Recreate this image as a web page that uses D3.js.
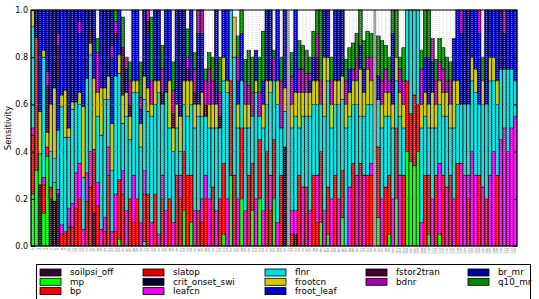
<!DOCTYPE html>
<html>
<head>
<meta charset="utf-8">
<script src="https://cdn.jsdelivr.net/npm/d3@7"></script>
<style>
  body { margin: 0; background: #fff; }
  text { font-family: "DejaVu Sans", sans-serif; }
</style>
</head>
<body>
<div id="chart"></div>
<script>
// parameter names, in stacking order (bottom to top)
var seriesNames = ["soilpsi_off", "mp", "bp", "slatop", "crit_onset_swi", "leafcn",
  "flnr", "frootcn", "froot_leaf", "fstor2tran", "bdnr", "br_mr", "q10_mr"];
var seriesColors = ["#2e0a2e", "#00ff00", "#ff0000", "#e00000", "#000033", "#ee00ee",
  "#00dddd", "#cccc00", "#0000cc", "#440033", "#aa00aa", "#000099", "#008800"];

// sensitivity of each case (135 slots, two empty separator slots)
var soilpsi_off = [0,0,.26,0,0,.2,.19,.22,0,0,0,0,0,0,0, 0,0,.14,0,0,0,0,0,0,0,0,0,0,0,0, 0,0,0,0,0,0,0,0,0,0,0,0,0,0,0, 0,0,0,0,0,0,0,0,0,0,0,0,0,0,0, 0,0,0,0,0,0,0,0,0,0,0,0,0,.05,0, 0,0,0,0,0,0,0,0,0,0,0,0,0,0,0, 0,0,0,0,0,0,0,0,0,0,0,0,0,0,0, 0,0,0,0,0,0,0,0,0,0,0,0,0,0,0, 0,0,0,0,0,0,0,0,0,0,0,0,0,0,0];
var mp = [.22,.32,.13,.14,.38,0,.08,0,0,0,0,0,0,0,0, 0,0,0,0,0,0,0,0,0,.03,0,0,0,0,0, 0,.02,0,0,0,0,0,0,0,0,0,0,.15,0,.1, 0,0,0,0,0,0,0,0,.05,0,.3,0,0,.2,0, 0,.15,0,.2,0,0,0,.2,0,0,0,0,0,0,0, 0,0,0,0,0,.1,0,.05,0,0,0,.12,0,0,0, 0,0,0,0,0,0,.12,0,0,.05,0,.2,0,0,.4, .36,.34,.4,0,0,.05,0,0,.05,0,0,0,0,0,0, 0,0,0,0,0,0,0,0,0,0,0,0,0,0,0];
var bp = [.25,.565,0,.12,.04,.05,0,0,.05,.06,.08,.08,.16,.2,0, .19,.25,.27,.17,0,.06,.3,0,.06,.25,.22,0,.2,.1,.2, 0,.2,.22,0,.22,0,.2,0,.2,0,.3,.2,.25,.3,.2, 0,.15,.1,.2,0,.25,0,.2,.3,0,.4,.3,0,.3,0, .3,.2,0,.25,0,.4,.15,.25,0,.3,0,0,.05,0,.3, 0,.25,0,.3,.1,.3,0,.2,0,.3,0,.2,0,0,.35, 0,.35,0,.3,.3,0,.3,0,.25,.25,0,.3,0,.3,.3, .2,.3,.2,0,.3,.25,0,.3,0,.3,0,.3,0,.35,0, 0,.2,0,0,.3,0,.2,0,0,.3,0,0,0,0,0];
var slatop = [0,0,0,0,0,0,0,0,0,0,0,0,0,0,0, 0,0,0,0,0,0,0,0,0,0,0,0,0,0,0, 0,0,0,0,0,0,0,0,0,0,0,0,0,0,0, 0,0,0,0,0,0,0,0,0,0,0,0,0,0,0, 0,0,0,0,0,0,0,0,0,0,0,0,0,0,0, 0,0,0,0,0,0,0,0,0,0,0,0,0,0,0, 0,0,0,0,0,0,0,0,0,0,0,0,0,0,0, 0,0,0,0,0,0,0,0,0,0,0,0,0,0,0, 0,0,0,0,0,0,0,0,0,0,0,0,0,0,0];
var crit_onset_swi = [0,0,0,0,0,0,0,0,0,0,0,0,0,0,0, 0,0,0,0,0,0,0,0,0,0,0,0,0,0,0, 0,0,0,0,0,0,0,0,0,0,0,0,0,0,0, 0,0,0,0,0,0,0,0,0,0,0,0,0,0,0, 0,0,0,0,0,0,0,0,0,0,.42,0,0,0,0, 0,0,0,0,0,0,0,0,0,0,0,0,0,0,0, 0,0,0,0,0,0,0,0,0,0,0,0,0,0,0, 0,0,0,0,0,0,0,0,0,0,0,0,0,0,0, 0,0,0,0,0,0,0,0,0,0,0,0,0,0,0];
var leafcn = [.03,0,0,.03,0,0,0,.02,.04,0,.08,.1,.15,.15,.07, .12,.15,0,.1,.07,.06,.12,.06,.16,0,.1,.15,0,.2,0, .1,.1,0,.1,0,.05,.1,.15,0,.1,0,.1,0,0,0, .15,0,.1,.1,.2,0,.15,0,0,.2,0,0,.2,0,.15, 0,0,.2,0,.15,0,.15,0,.1,0,0,0,.1,.1,0, .25,0,.15,0,.2,0,.15,0,.2,0,.2,0,0,.25,0, .3,0,.3,0,.05,0,0,.2,0,0,.2,0,.3,0,0, 0,0,0,.1,0,0,.2,0,.3,0,.25,0,.2,0,.35, .3,.1,.4,.3,0,.25,0,.3,.4,0,.45,.5,.4,.5,.55];
var flnr = [.43,0,0,.51,0,.15,.1,.25,.5,.4,.3,.4,.3,.25,.22, .4,.41,0,.28,.4,.5,.2,.26,.5,.45,.2,.4,.25,.35,.45, .32,.3,.35,.45,.38,.6,.3,.5,.3,.3,.2,.1,.2,.25,.3, .35,.4,.35,.25,.3,.25,.35,.3,.35,.45,.3,.5,.3,.2,.35, .2,.2,.45,.1,.35,.2,.35,.25,.5,.2,.15,0,.35,.4,.2, .3,.3,.4,.3,.3,.2,.4,.45,.3,.3,.4,.3,.5,.3,.25, .3,.2,.25,.3,.25,0,.2,.3,.3,.25,.3,.2,.25,.2,.3, .44,.36,.4,.4,.25,.2,.3,.2,.25,.25,.3,.2,.3,.25,.25, .3,.3,.3,.35,.3,.35,.4,.4,.3,.3,.3,.25,.35,.25,.15];
var frootcn = [.07,0,.18,.03,.06,.2,.3,0,.05,.2,.04,.03,0,.05,.3, 0,.05,.3,.1,.2,.05,.1,.2,0,.08,.12,.1,.1,.05,.05, .1,.1,.1,.05,.1,.05,0,0,.2,.1,.1,.15,.1,.15,.1, .1,.05,.1,0,.1,.1,.1,0,.1,.05,0,.17,.1,0,.1, .1,0,.05,0,.1,.1,.05,0,.1,0,.1,0,.1,.1,.15, .1,.1,.1,.1,.1,0,.25,.1,.1,.1,.1,.1,.1,.1,.1, .1,.2,.1,.15,.1,0,0,.1,.1,.1,.1,.1,.1,.1,0, 0,0,0,.1,.1,.1,.15,.1,.1,.1,.1,.1,.2,.1,0, 0,0,.1,.1,0,.1,0,.1,.1,.1,0,0,0,0,0];
var froot_leaf = [0,0,.43,.17,0,.4,0,.21,.36,.34,.5,.39,.39,.25,.41, .29,0,.29,0,.33,.33,.28,.28,.15,.19,0,.1,0,.3,.3, .06,.28,.23,0,.3,.3,0,.35,.3,0,.4,.45,0,0,.3, 0,.3,.25,0,0,0,.4,0,.2,.3,0,0,.1,.2,0, 0,0,.13,0,.1,.3,.3,0,.3,0,.33,0,0,.35,0, 0,0,.05,.1,0,0,.2,.2,0,.3,.3,.28,0,.1,0, 0,.1,.1,0,0,0,.1,0,0,0,.3,0,0,0,0, 0,0,0,0,.15,.2,.13,0,0,0,0,0,.18,.3,.3, .4,.4,.2,.25,.3,0,.4,.2,.2,.3,.25,.15,.25,.25,.3];
var fstor2tran = [0,0,0,0,.2,0,0,.15,0,0,0,0,0,0,0, 0,.05,0,0,0,0,0,0,.03,0,.2,0,.05,0,0, 0,0,.05,0,0,0,.05,0,0,.06,0,0,0,.05,0, .05,0,0,.05,0,0,0,.05,0,0,0,0,0,0,0, 0,0,0,0,0,0,0,0,0,0,0,0,0,0,0, 0,0,0,0,.1,0,0,0,0,0,0,0,0,0,0, 0,0,0,0,0,0,0,0,0,0,0,0,0,0,0, 0,0,0,0,0,0,0,0,0,0,0,0,0,0,0, 0,0,0,0,0,0,0,0,0,0,0,0,0,0,0];
var bdnr = [0,0,0,0,.06,0,0,.05,0,0,0,0,0,.05,0, 0,0,0,.17,0,0,0,.05,.05,0,0,.05,.1,0,0, .05,0,.05,.1,0,0,.1,0,0,.1,0,0,0,.05,0, .1,.1,.1,.1,.15,.1,0,.1,0,0,0,0,.1,0,.1, .08,.1,0,.1,0,0,0,.1,0,.2,0,0,.12,0,.1, .1,.08,.03,0,.1,.1,0,0,.1,0,0,0,.1,0,.05, .1,0,0,.05,.1,0,0,.1,.1,.05,0,0,.1,.1,0, 0,0,0,.15,0,0,.1,.1,.08,.1,.05,.1,0,0,.1, 0,0,0,0,.1,0,0,0,0,0,0,.1,0,0,0];
var br_mr = [0,.115,0,0,.26,0,.33,.1,0,0,0,0,0,.05,0, 0,.09,0,0,0,0,0,.15,0,0,0,0,0,0,0, 0,0,0,0,0,0,0,0,0,0,0,0,.3,0,0, 0,0,0,0,0,0,0,0,0,0,0,0,0,0,0, 0,0,0,0,0,0,0,0,0,0,0,0,0,0,0, 0,0,0,0,0,0,0,0,0,0,0,0,0,0,0, 0,0,0,0,0,0,0,0,0,0,0,0,0,0,0, 0,0,0,0,0,0,0,0,0,0,0,0,0,0,0, 0,0,0,0,0,0,0,0,0,0,0,0,0,0,0];
var q10_mr = [0,0,0,0,0,0,0,0,0,0,0,0,0,0,0, 0,0,0,.06,0,0,0,0,.05,0,.13,0,.08,0,0, .15,0,0,.27,0,0,.1,0,0,.12,0,0,0,.12,0, .07,0,0,.05,.07,.1,0,.15,0,0,0,0,.09,.1,.09, .15,.15,0,.15,.21,0,0,.03,0,.1,0,0,.1,0,.12, .1,.1,.07,.11,.1,.3,0,0,.1,0,0,0,.09,.09,.11, .1,.15,.12,.11,.1,0,.17,.17,.1,.1,.1,.2,.05,.14,0, 0,0,0,.08,.2,.2,0,.09,.1,.09,.1,.08,0,0,0, 0,0,0,0,0,.1,0,0,0,0,0,0,0,0,0];

var separators = [71, 95];
var yTicks = [0, 0.2, 0.4, 0.6, 0.8, 1.0];
// legend columns, as matplotlib fills them (3,3,3,2,2)
var legendColumns = [[0, 1, 2], [3, 4, 5], [6, 7, 8], [9, 10], [11, 12]];

var seriesValues = [soilpsi_off, mp, bp, slatop, crit_onset_swi, leafcn,
  flnr, frootcn, froot_leaf, fstor2tran, bdnr, br_mr, q10_mr];
var caseIds = d3.range(soilpsi_off.length);

var svgWidth = 539;
var svgHeight = 299;
var margin = {top: 10, right: 22, bottom: 53, left: 31};
var width = svgWidth - margin.left - margin.right;
var height = svgHeight - margin.top - margin.bottom;

var svg = d3.select("#chart")
  .append("svg")
  .attr("width", svgWidth)
  .attr("height", svgHeight);

svg.append("rect")
  .attr("width", svgWidth)
  .attr("height", svgHeight)
  .attr("fill", "#fff");

var chartGroup = svg.append("g")
  .attr("transform", `translate(${margin.left}, ${margin.top})`);

var xScale = d3.scaleBand()
  .domain(caseIds)
  .range([0, width])
  .padding(0);

var yScale = d3.scaleLinear()
  .domain([0, 1])
  .range([height, 0]);

// build stack rows from the named series
var rows = caseIds.map(function(i) {
  var row = {id: i};
  seriesNames.forEach(function(name, k) { row[name] = seriesValues[k][i]; });
  return row;
});
var stacked = d3.stack().keys(seriesNames)(rows);

// separator bands
chartGroup.selectAll(".sep")
  .data(separators)
  .enter()
  .append("rect")
  .attr("x", d => xScale(d) + 0.4)
  .attr("y", 0)
  .attr("width", xScale.bandwidth() - 0.8)
  .attr("height", height)
  .attr("fill", "#999");

var layers = chartGroup.selectAll(".layer")
  .data(stacked)
  .enter()
  .append("g")
  .attr("fill", (d, k) => seriesColors[k]);

layers.selectAll("rect")
  .data(d => d.filter(s => s[1] - s[0] > 0))
  .enter()
  .append("rect")
  .attr("x", s => xScale(s.data.id))
  .attr("y", s => yScale(s[1]))
  .attr("width", xScale.bandwidth())
  .attr("height", s => yScale(s[0]) - yScale(s[1]))
  .attr("stroke", "#000")
  .attr("stroke-width", 0.6);

// dotted grid on top
chartGroup.selectAll(".vgrid")
  .data(caseIds)
  .enter()
  .append("line")
  .attr("x1", d => xScale(d) + xScale.bandwidth() / 2)
  .attr("x2", d => xScale(d) + xScale.bandwidth() / 2)
  .attr("y1", 0)
  .attr("y2", height)
  .attr("stroke", "#c8c8c8")
  .attr("stroke-width", 0.7)
  .attr("stroke-dasharray", "1,1");

chartGroup.selectAll(".hgrid")
  .data(yTicks.slice(1, -1))
  .enter()
  .append("line")
  .attr("x1", 0)
  .attr("x2", width)
  .attr("y1", d => yScale(d))
  .attr("y2", d => yScale(d))
  .attr("stroke", "#777")
  .attr("stroke-width", 0.7)
  .attr("stroke-dasharray", "1,1");

// axes
var leftAxis = d3.axisLeft(yScale)
  .tickValues(yTicks)
  .tickFormat(d3.format(".1f"))
  .tickSize(-4)
  .tickPadding(3);

var yAxis = chartGroup.append("g").call(leftAxis);
yAxis.select(".domain").remove();
yAxis.selectAll("text")
  .attr("font-size", 8)
  .attr("font-family", "DejaVu Sans")
  .attr("fill", "#000");

var rightAxis = d3.axisRight(yScale)
  .tickValues(yTicks)
  .tickFormat("")
  .tickSize(-4);
var yAxisR = chartGroup.append("g")
  .attr("transform", `translate(${width}, 0)`)
  .call(rightAxis);
yAxisR.select(".domain").remove();

var bottomAxis = d3.axisBottom(xScale)
  .tickSize(0)
  .tickPadding(2);
var xAxis = chartGroup.append("g")
  .attr("transform", `translate(0, ${height})`)
  .call(bottomAxis);
xAxis.select(".domain").remove();
xAxis.selectAll("text")
  .attr("font-size", 3.2)
  .attr("fill", "#666")
  .attr("transform", "rotate(-90)")
  .attr("text-anchor", "end")
  .attr("x", -2)
  .attr("y", 0)
  .attr("dy", "0.35em");

// frame
chartGroup.append("rect")
  .attr("width", width)
  .attr("height", height)
  .attr("fill", "none")
  .attr("stroke", "#000")
  .attr("stroke-width", 1);

// y label
svg.append("text")
  .attr("transform", `translate(11, ${margin.top + height / 2}) rotate(-90)`)
  .attr("text-anchor", "middle")
  .attr("font-size", 8.5)
  .text("Sensitivity");

// legend
var legend = svg.append("g");
legend.append("rect")
  .attr("x", 36.5)
  .attr("y", 264.5)
  .attr("width", 494)
  .attr("height", 45)
  .attr("fill", "#fff")
  .attr("stroke", "#000")
  .attr("stroke-width", 1);

var colX = [40, 143, 265, 366, 468];
var rowY = [272.5, 281.8, 291.1];
var legendPos = [];
legendColumns.forEach(function(col, c) {
  col.forEach(function(k, r) { legendPos[k] = [colX[c], rowY[r]]; });
});

var items = legend.selectAll(".item")
  .data(seriesNames)
  .enter()
  .append("g")
  .attr("transform", (d, k) => `translate(${legendPos[k][0]}, ${legendPos[k][1]})`);

items.append("rect")
  .attr("x", 0)
  .attr("y", -3.5)
  .attr("width", 21)
  .attr("height", 7)
  .attr("fill", (d, k) => seriesColors[k])
  .attr("stroke", "#000")
  .attr("stroke-width", 0.8);

items.append("text")
  .attr("x", 30)
  .attr("y", 0)
  .attr("dy", "0.32em")
  .attr("font-size", 8.8)
  .text(d => d);
</script>
</body>
</html>
